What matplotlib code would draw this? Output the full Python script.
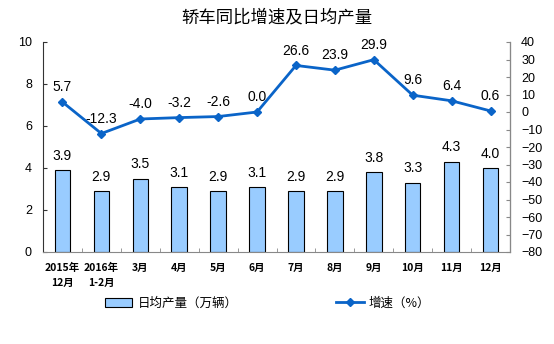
import matplotlib
matplotlib.use("Agg")
import matplotlib.pyplot as plt
from matplotlib.ticker import FixedLocator
import numpy as np

plt.rcParams['font.family'] = ['Noto Sans CJK SC', 'DejaVu Sans']

categories = ["2015年\n12月", "2016年\n1-2月", "3月", "4月", "5月", "6月",
              "7月", "8月", "9月", "10月", "11月", "12月"]
output = [3.9, 2.9, 3.5, 3.1, 2.9, 3.1, 2.9, 2.9, 3.8, 3.3, 4.3, 4.0]
growth = [5.7, -12.3, -4.0, -3.2, -2.6, 0.0, 26.6, 23.9, 29.9, 9.6, 6.4, 0.6]
title = "轿车同比增速及日均产量"
bar_label = "日均产量（万辆）"
line_label = "增速（%）"

fig = plt.figure(figsize=(5.54, 3.44), dpi=100)
ax = fig.add_axes([43/554, 92/344, (510-43)/554, 210/344])
x = np.arange(len(categories))

bars = ax.bar(x, output, width=0.4, color="#99CCFF", edgecolor="black", linewidth=0.8,
              label=bar_label, zorder=2)
ax.set_xlim(-0.5, len(categories) - 0.5)
ax.set_ylim(0, 10)
ax.set_yticks([0, 2, 4, 6, 8, 10])
for xi, v in zip(x, output):
    ax.text(xi, v + 0.35, f"{v:.1f}", ha="center", va="bottom", fontsize=10,
            family="Liberation Sans")

ax2 = ax.twinx()
line, = ax2.plot(x, growth, color="#0A64C8", linewidth=2, marker="D", markersize=4.5,
                 label=line_label, zorder=3)
ax2.set_ylim(-80, 40)
ax2.set_yticks(np.arange(-80, 41, 10))
for xi, v in zip(x, growth):
    ax2.text(xi, v + 4.5, f"{v:.1f}", ha="center", va="bottom", fontsize=10,
             family="Liberation Sans")

ax.set_xticks(x)
ax.set_xticklabels(categories, fontsize=7.5, fontweight="bold", linespacing=1.6)
ax.xaxis.set_minor_locator(FixedLocator(np.arange(-0.5, len(categories), 1)))
ax.tick_params(axis="x", which="major", length=0, pad=8)
ax.tick_params(axis="x", which="minor", direction="in", length=3, color="#888888")
ax.tick_params(axis="y", direction="in", length=3, labelsize=9, color="#333333", pad=8)
ax2.tick_params(axis="y", direction="in", length=3, labelsize=9, color="#888888", pad=8)
for lab in ax.get_yticklabels() + ax2.get_yticklabels():
    lab.set_family("Liberation Sans")

for a in (ax, ax2):
    a.spines["top"].set_visible(False)
ax.spines["left"].set_color("#333333")
ax.spines["bottom"].set_color("#888888")
ax2.spines["right"].set_color("#888888")
ax2.spines["left"].set_visible(False)
ax2.spines["bottom"].set_visible(False)

fig.text(0.5, 1 - 17/344, title, ha="center", va="center", fontsize=12.5)

fig.legend([bars, line], [bar_label, line_label], loc="center",
           bbox_to_anchor=(0.483, 1 - 303/344), ncol=2, frameon=False, fontsize=9,
           columnspacing=7.9, handlelength=2.2, handletextpad=0.4)

fig.savefig("out.png", dpi=100)
